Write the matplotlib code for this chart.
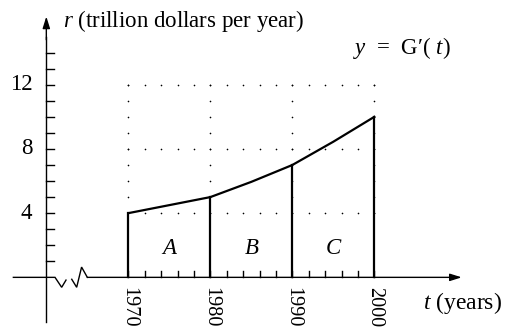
import numpy as np
import matplotlib
matplotlib.use("Agg")
import matplotlib.pyplot as plt
from matplotlib.patches import FancyArrowPatch

plt.rcParams["font.family"] = ["Liberation Serif", "DejaVu Serif"]
plt.rcParams["mathtext.fontset"] = "custom"
plt.rcParams["mathtext.rm"] = "Liberation Serif"
plt.rcParams["mathtext.it"] = "Liberation Serif:italic"

# rate of spending G'(t), read at decades and mid-decades
years = [1970, 1975, 1980, 1985, 1990, 1995, 2000]
rate = [4.0, 4.5, 5.0, 5.95, 7.0, 8.45, 10.0]

decades = [1970, 1980, 1990, 2000]
decade_labels = ["1970", "1980", "1990", "2000"]
region_labels = ["A", "B", "C"]
yticks_major = [4, 8, 12]

FS = 16.5

fig = plt.figure(figsize=(5.11, 3.30), dpi=100)
ax = fig.add_axes([0, 0, 1, 1])
ax.set_xlim(1954.35, 2016.67)
ax.set_ylim(-3.28, 17.28)
ax.axis("off")

y_axis_x = 1960
k = "black"

# dotted reference grid
grid_x = np.arange(1970, 2001, 2)
for yv in yticks_major:
    ax.scatter(grid_x, np.full(grid_x.shape, yv), s=1.4, color=k, lw=0, zorder=1)
grid_y = np.arange(4, 13, 1)
for xv in decades:
    ax.scatter(np.full(grid_y.shape, xv), grid_y, s=1.4, color=k, lw=0, zorder=1)

# vertical axis with tick marks on its right side
ax.plot([y_axis_x, y_axis_x], [-2.77, 15.0], color=k, lw=1.0)
ax.add_patch(FancyArrowPatch((y_axis_x, 14.8), (y_axis_x, 16.25),
                             arrowstyle="-|>,head_length=0.7,head_width=0.22",
                             mutation_scale=10, color=k, lw=1.0,
                             shrinkA=0, shrinkB=0))
ticklen = 0.9
for yv in range(1, 15):
    ax.plot([y_axis_x, y_axis_x + ticklen], [yv, yv], color=k, lw=1.0)
for yv in yticks_major:
    ax.text(1958.3, yv, str(yv), ha="right", va="center", fontsize=FS)

# horizontal axis, broken between the origin and 1970
ax.plot([1955.98, 1961.06, 1961.87, 1962.4], [0, 0, -0.62, -0.17],
        color=k, lw=1.0, solid_joinstyle="miter")
ax.plot([1963.1, 1963.7, 1964.3, 1965.0], [-0.12, -0.62, 0.64, 0],
        color=k, lw=1.0, solid_joinstyle="miter")
ax.add_patch(FancyArrowPatch((1965.0, 0), (2010.66, 0),
                             arrowstyle="-|>,head_length=0.7,head_width=0.22",
                             mutation_scale=10, color=k, lw=1.0,
                             shrinkA=0, shrinkB=0))
for xv in range(1970, 2001, 2):
    ax.plot([xv, xv], [0, 0.38], color=k, lw=1.0)
for xv, lab in zip(decades, decade_labels):
    ax.text(xv, -0.62, lab, rotation=-90, ha="center", va="top", fontsize=14.6)

# the rate curve and the decade boundaries
ax.plot(years, rate, color=k, lw=1.6, zorder=3, solid_joinstyle="round")
for xv in decades:
    top = rate[years.index(xv)]
    ax.plot([xv, xv], [0, top], color=k, lw=1.6, zorder=3)

for i, lab in enumerate(region_labels):
    ax.text(decades[i] + 5, 1.8, f"${lab}$", ha="center", va="center", fontsize=FS)

ax.text(1962.0, 15.6, "$r$ (trillion dollars per year)", ha="left",
        va="baseline", fontsize=FS)
ax.text(2003.4, 14.3, "$y$  =  G\u2032( $t$)", ha="center", va="center",
        fontsize=FS)
ax.text(2005.9, -1.6, "$t$ (years)", ha="left", va="center", fontsize=17)

fig.savefig("out.png", dpi=100)
